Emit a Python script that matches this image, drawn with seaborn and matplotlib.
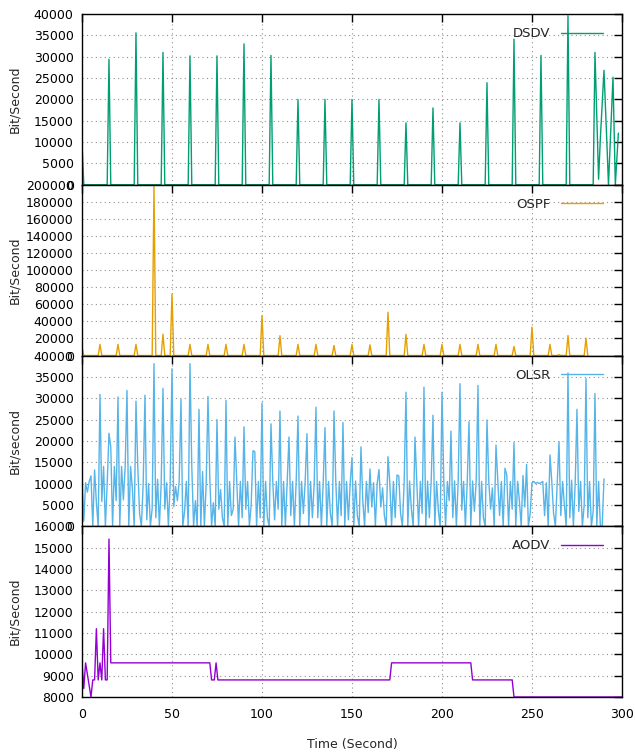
import pandas as pd
import matplotlib
matplotlib.use('Agg')
import matplotlib.pyplot as plt
import seaborn as sns

# DSDV: periodic spikes every 15 s, then a burst at the end
dsdv_spike_t = [15, 30, 45, 60, 75, 90, 105, 120, 135, 150, 165, 180, 195, 210, 225, 240, 255, 270]
dsdv_spike_v = [29400, 35600, 31000, 30200, 30200, 33000, 30300, 20000, 20000, 20000, 20000,
                14500, 18000, 14500, 23900, 34100, 30300, 39600]
dsdv_head_t = [0, 1]
dsdv_head_v = [10000, 0]
dsdv_tail_t = [284, 285, 287, 288, 290, 291.5, 292.5, 295, 296.3, 298]
dsdv_tail_v = [0, 31000, 1300, 11000, 26800, 11000, 0, 25200, 0, 12100]

# OSPF: spikes every 10 s plus a few extras
ospf_spike_t = [10, 20, 30, 40, 45, 50, 60, 70, 80, 90, 100, 110, 120, 130, 140, 150, 160,
                170, 180, 190, 200, 210, 220, 230, 240, 250, 260, 265, 270, 280]
ospf_spike_v = [13000, 13000, 13000, 198000, 25000, 72000, 13000, 13000, 13000, 13000, 46700,
                23200, 13000, 13000, 11800, 12900, 12500, 50600, 24700, 13000, 13000, 13000,
                13000, 13000, 10600, 33300, 13000, 1000, 23500, 20400]
ospf_head_t = [0, 1]
ospf_head_v = [10600, 0]

# OLSR: one sample per second, a peak every 5 s
olsr_peaks = [11500, 11800, 30900, 21800, 30300, 31800, 29300, 30700, 38100, 32300,
              36900, 29700, 38100, 27400, 30400, 25000, 29500, 20900, 23300, 17700,
              28900, 24000, 27000, 20900, 25800, 21700, 27900, 23100, 27000, 24300,
              16100, 18600, 13400, 13300, 16300, 12000, 31400, 20900, 32600, 26000,
              31400, 22300, 33400, 24500, 33000, 24900, 19000, 13600, 19600, 11900,
              10200, 10200, 16700, 19800, 35900, 27400, 34600, 31100, 11100]
olsr_between = [
    [1200, 10200, 8000, 10500], [0, 13200, 5600, 0], [5800, 14000, 0, 10000],
    [18500, 0, 14000, 6000], [0, 14000, 6200, 14000], [0, 14000, 8800, 0],
    [14000, 3000, 0, 10000], [1500, 10000, 0, 4200], [2000, 11000, 0, 10000],
    [4000, 10200, 0, 10000], [4600, 9300, 6000, 10500], [0, 3500, 10500, 0],
    [14000, 0, 6000, 0], [0, 12800, 0, 10000], [11600, 0, 5500, 0],
    [4000, 8600, 2000, 0], [0, 10500, 2500, 4000], [10500, 0, 10500, 2000],
    [4000, 10500, 0, 5000], [17500, 0, 10500, 2000], [0, 10500, 2000, 0],
    [10500, 1500, 10500, 4000], [0, 10500, 0, 10500], [2500, 10500, 0, 10500],
    [0, 10500, 3000, 10500], [0, 10500, 2000, 10000], [2000, 10500, 0, 10000],
    [0, 10500, 3000, 0], [10500, 0, 10500, 2500], [0, 10500, 1500, 10000],
    [0, 10600, 2500, 0], [6000, 0, 10500, 3200], [4500, 10200, 0, 10000],
    [4500, 9000, 2500, 0], [10300, 0, 10500, 2000], [11800, 3000, 0, 10500],
    [0, 10600, 4000, 0], [10500, 0, 10500, 3000], [0, 10600, 2000, 10500],
    [0, 10500, 3500, 0], [10600, 0, 10500, 6000], [2000, 10600, 0, 10500],
    [3800, 10500, 0, 10000], [0, 10600, 3500, 10500], [0, 10500, 2000, 0],
    [10500, 4000, 9000, 0], [10500, 2500, 10500, 0], [12000, 0, 10500, 4000],
    [0, 10500, 6000, 0], [4500, 14500, 0, 3000], [10500, 10000, 10300, 10000],
    [10500, 2500, 10200, 0], [10500, 3000, 0, 10000], [2500, 10500, 5000, 0],
    [2000, 10800, 0, 10000], [3500, 10500, 0, 5000], [2000, 10500, 0, 3500],
    [0, 10500, 0, 0],
]

# AODV: step-like throughput
aodv_t = [0, 1, 2, 5, 6, 7, 8, 9, 10, 11, 12, 13, 14, 15, 16, 71, 72, 73.5, 74.5, 75.5,
          171, 172, 216, 217, 239, 240, 300]
aodv_v = [9600, 8400, 9600, 8000, 8800, 8800, 11200, 8800, 9600, 8800, 11200, 8800, 8800,
          15400, 9600, 9600, 8800, 8800, 9600, 8800, 8800, 9600, 9600, 8800, 8800, 8000, 8000]


def spikes(head_t, head_v, spike_t, spike_v, tail_t=(), tail_v=()):
    t, v = list(head_t), list(head_v)
    for s, h in zip(spike_t, spike_v):
        t += [s - 1, s, s + 1]
        v += [0, h, 0]
    t += list(tail_t)
    v += list(tail_v)
    return pd.DataFrame({'t': t, 'v': v})


dsdv = spikes(dsdv_head_t, dsdv_head_v, dsdv_spike_t, dsdv_spike_v, dsdv_tail_t, dsdv_tail_v)
ospf = spikes(ospf_head_t, ospf_head_v, ospf_spike_t, ospf_spike_v)

olsr_vals = []
for i, p in enumerate(olsr_peaks):
    olsr_vals.append(p)
    if i < len(olsr_between):
        olsr_vals += olsr_between[i]
olsr = pd.DataFrame({'t': range(len(olsr_vals)), 'v': olsr_vals})
aodv = pd.DataFrame({'t': aodv_t, 'v': aodv_v})

sns.set_theme(style='white')
plt.rcParams['font.family'] = ['DejaVu Sans']
plt.rcParams['font.size'] = 9

fig, axes = plt.subplots(4, 1, figsize=(6.35, 7.54), dpi=100, sharex=True)
fig.subplots_adjust(left=0.1291, right=0.9795, top=0.9814, bottom=0.0756, hspace=0)

panels = [
    (dsdv, 'DSDV', '#009e73', (0, 40000), 5000, 'Bit/Second'),
    (ospf, 'OSPF', '#e69f00', (0, 200000), 20000, 'Bit/Second'),
    (olsr, 'OLSR', '#56b4e9', (0, 40000), 5000, 'Bit/second'),
    (aodv, 'AODV', '#9400d3', (8000, 16000), 1000, 'Bit/Second'),
]

for ax, (df, name, color, ylim, step, ylab) in zip(axes, panels):
    sns.lineplot(data=df, x='t', y='v', ax=ax, color=color, linewidth=1.0,
                 label=name, estimator=None, sort=False)
    ax.set_xlim(0, 300)
    ax.set_ylim(*ylim)
    ax.set_yticks(range(ylim[0], ylim[1] + 1, step))
    ax.set_xticks(range(0, 301, 50))
    ax.ticklabel_format(style='plain', axis='y')
    ax.grid(True, linestyle=(0, (1, 3)), color='#909090', linewidth=0.8)
    ax.tick_params(direction='in', length=6, width=1, top=True, right=True,
                   labelsize=9, pad=6, colors='black')
    for sp in ax.spines.values():
        sp.set_color('black')
        sp.set_linewidth(1.0)
    ax.set_ylabel(ylab, fontsize=9)
    ax.yaxis.set_label_coords(-0.112, 0.5)
    ax.set_xlabel('')
    ax.legend(loc='upper right', bbox_to_anchor=(0.99, 1.0), frameon=False,
              markerfirst=False, handlelength=3.2, fontsize=9.5, borderaxespad=0.6)

axes[-1].tick_params(axis='x', pad=8)
axes[-1].set_xlabel('Time (Second)', fontsize=9, labelpad=12)

fig.savefig('out.png', dpi=100)
